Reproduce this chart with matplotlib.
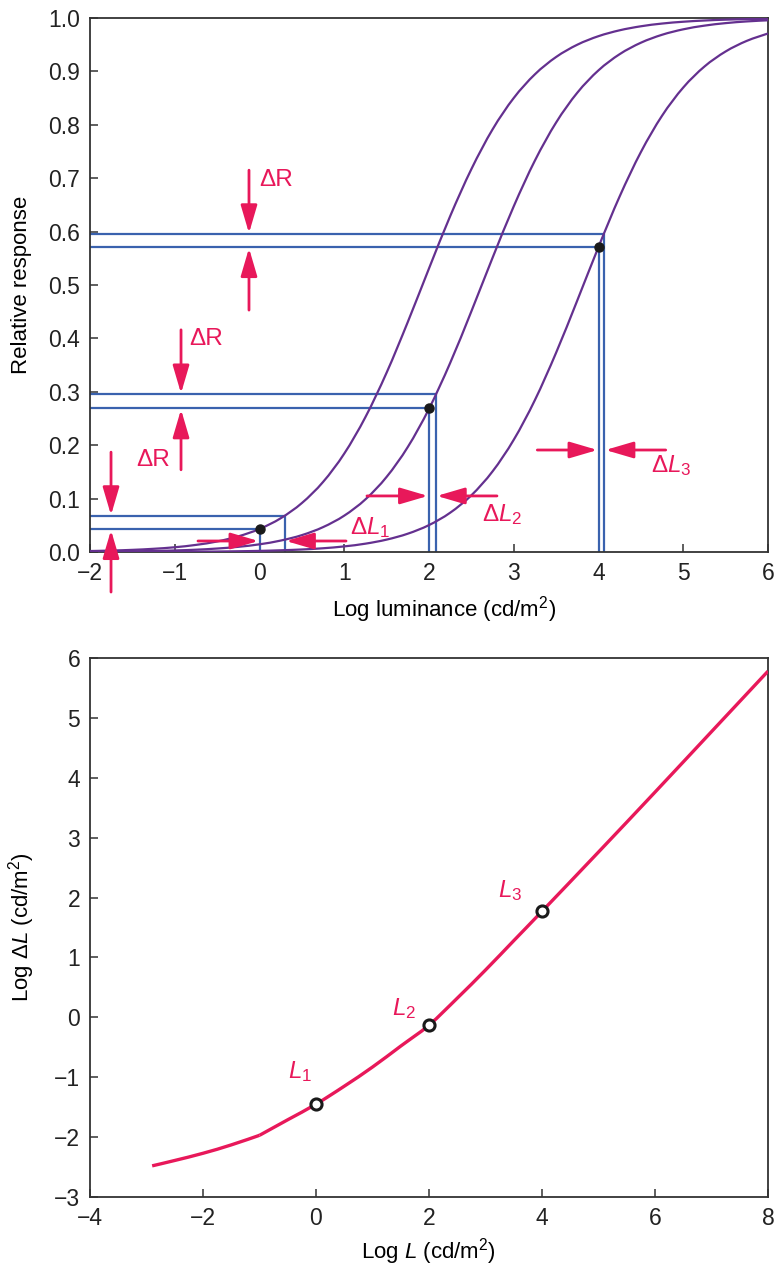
import matplotlib
matplotlib.use("Agg")
import matplotlib.pyplot as plt
from matplotlib.path import Path
from matplotlib.patches import PathPatch
import numpy as np

plt.rcParams['font.family'] = ['Liberation Sans', 'DejaVu Sans']
plt.rcParams['mathtext.fontset'] = 'custom'
plt.rcParams['mathtext.rm'] = 'Liberation Sans'
plt.rcParams['mathtext.it'] = 'Liberation Sans:italic'
plt.rcParams['mathtext.bf'] = 'Liberation Sans:bold'

# ---------------- data ----------------
log_lum = [-2.0, -1.75, -1.5, -1.25, -1.0, -0.75, -0.5, -0.25, 0.0, 0.25, 0.5, 0.75,
           1.0, 1.25, 1.5, 1.75, 2.0, 2.25, 2.5, 2.75, 3.0, 3.25, 3.5, 3.75,
           4.0, 4.25, 4.5, 4.75, 5.0, 5.25, 5.5, 5.75, 6.0]
response_1 = [0.0018, 0.0027, 0.0040, 0.0060, 0.0089, 0.0133, 0.0197, 0.0293, 0.0431,
              0.0632, 0.0917, 0.1312, 0.1843, 0.2527, 0.3359, 0.4308, 0.531, 0.629,
              0.717, 0.7914, 0.8502, 0.8946, 0.9270, 0.9500, 0.9660, 0.9770, 0.9845,
              0.9896, 0.9930, 0.9953, 0.9969, 0.9979, 0.9986]
response_2 = [0.0006, 0.0009, 0.0013, 0.0019, 0.0029, 0.0043, 0.0065, 0.0097, 0.0144,
              0.0214, 0.0316, 0.0466, 0.0681, 0.0986, 0.1407, 0.1967, 0.2682, 0.3541,
              0.4507, 0.5510, 0.6474, 0.7331, 0.8043, 0.8601, 0.9020, 0.9323, 0.9537,
              0.9686, 0.9788, 0.9857, 0.9904, 0.9936, 0.9957]
response_3 = [0.0001, 0.0001, 0.0002, 0.0003, 0.0004, 0.0006, 0.0009, 0.0014, 0.0021,
              0.0032, 0.0047, 0.0070, 0.0105, 0.0156, 0.0232, 0.0343, 0.0504, 0.0736,
              0.1062, 0.1510, 0.2102, 0.2847, 0.3733, 0.4712, 0.5713, 0.6660, 0.7489,
              0.8170, 0.8698, 0.9091, 0.9373, 0.9572, 0.9710]

# increment boxes: L, L + dL, R, R + dR  (curve 1, 2, 3)
box_L = [0.0, 2.0, 4.0]
box_L_plus = [0.3, 2.08, 4.07]
box_R = [0.043, 0.269, 0.571]
box_R_plus = [0.067, 0.295, 0.595]

# threshold-versus-intensity curve (two pieces meeting at the knee)
tvi_logL_low = [-2.9, -2.5, -2.0, -1.5, -1.0]
tvi_logdL_low = [-2.48, -2.39, -2.27, -2.13, -1.97]
tvi_logL = [-1.0, -0.5, 0.0, 0.5, 1.0, 1.5, 2.0, 2.5, 3.0,
            3.5, 4.0, 5.0, 6.0, 7.0, 8.0]
tvi_logdL = [-1.97, -1.71, -1.45, -1.15, -0.83, -0.48,
             -0.13, 0.32, 0.79, 1.28, 1.77, 2.76, 3.76, 4.77, 5.78]
mark_logL = [0.0, 2.0, 4.0]
mark_logdL = [-1.45, -0.13, 1.77]
mark_names = ['1', '2', '3']

PURPLE = '#64308f'
BLUE = '#3a62ae'
PINK = '#e8185a'
AX = '#333333'
FS_TICK = 16.5
FS_LAB = 16
FS_ANN = 17.5


def smooth_path(xs, ys):
    pts = np.column_stack([xs, ys]).astype(float)
    verts = [pts[0]]
    codes = [Path.MOVETO]
    n = len(pts)
    for i in range(n - 1):
        p0 = pts[i - 1] if i > 0 else pts[i]
        p1 = pts[i]
        p2 = pts[i + 1]
        p3 = pts[i + 2] if i + 2 < n else pts[i + 1]
        verts += [p1 + (p2 - p0) / 6.0, p2 - (p3 - p1) / 6.0, p2]
        codes += [Path.CURVE4] * 3
    return Path(verts, codes)


def draw_curve(ax, xs, ys, **kw):
    ax.add_patch(PathPatch(smooth_path(xs, ys), fill=False, **kw))


fig = plt.figure(figsize=(7.77, 12.72), dpi=100)
ax1 = fig.add_axes([90/777, 1-552/1272, 678/777, 534/1272])
ax2 = fig.add_axes([90/777, 1-1197/1272, 678/777, 539/1272])

for ax in (ax1, ax2):
    for s in ax.spines.values():
        s.set_color(AX)
        s.set_linewidth(1.3)
    ax.tick_params(direction='in', length=6, width=1.1, color=AX,
                   labelsize=FS_TICK, labelcolor='#222222', pad=7)

# ---------------- top panel ----------------
for r in (response_1, response_2, response_3):
    draw_curve(ax1, log_lum, r, edgecolor=PURPLE, lw=1.6, zorder=3)

for xl, xh, rl, rh in zip(box_L, box_L_plus, box_R, box_R_plus):
    ax1.plot([-2, xl, xl], [rl, rl, 0], color=BLUE, lw=1.6, zorder=2)
    ax1.plot([-2, xh, xh], [rh, rh, 0], color=BLUE, lw=1.6, zorder=2)
    ax1.plot([xl], [rl], 'o', color='#1a1a1a', ms=6.5, zorder=5)

ax1.set_xlim(-2, 6)
ax1.set_ylim(0, 1)
ax1.set_xticks(range(-2, 7))
ax1.set_yticks(np.arange(0, 1.01, 0.1))
ax1.set_yticklabels([f'{v:.1f}' for v in np.arange(0, 1.01, 0.1)])
ax1.set_xlabel('Log luminance (cd/m$^2$)', fontsize=FS_LAB)
ax1.xaxis.set_label_coords((444 - 90) / 678, -(610 - 552) / 534)
ax1.xaxis.label.set_va('center')
ax1.set_ylabel('Relative response', fontsize=FS_LAB)
ax1.yaxis.set_label_coords((22 - 90) / 678, 0.5)
ax1.yaxis.label.set_va('center')


def arrow(ax, tail, tip):
    ax.annotate('', xy=tip, xytext=tail,
                arrowprops=dict(arrowstyle='-|>,head_length=1.7,head_width=0.5',
                                mutation_scale=10, lw=2, color=PINK,
                                shrinkA=0, shrinkB=0),
                annotation_clip=False, zorder=6)


# delta R arrows (vertical), for curves 1, 2, 3
for xa, rl, rh, ta, tb in zip([-1.752, -0.926, -0.124], box_R, box_R_plus,
                              [0.187, 0.416, 0.715], [-0.075, 0.154, 0.453]):
    arrow(ax1, (xa, ta), (xa, rh + 0.002))
    arrow(ax1, (xa, tb), (xa, rl - 0.002))
for xt, yt in zip([-0.006, -0.832, -1.457], [0.685, 0.388, 0.161]):
    ax1.text(xt, yt, 'ΔR', color=PINK, fontsize=FS_ANN, ha='left', va='baseline')

# delta L arrows (horizontal)
for ya, xl, xh, ta, tb in zip([0.0206, 0.105, 0.191], box_L, box_L_plus,
                              [-0.726, 1.268, 3.278], [1.021, 2.802, 4.793]):
    arrow(ax1, (ta, ya), (xl - 0.012, ya))
    arrow(ax1, (tb, ya), (xh + 0.012, ya))
for k, (xt, yt) in enumerate(zip([1.068, 2.625, 4.619], [0.034, 0.058, 0.150])):
    ax1.text(xt, yt, 'Δ$L_{%d}$' % (k + 1), color=PINK, fontsize=FS_ANN,
             ha='left', va='baseline')

# ---------------- bottom panel ----------------
draw_curve(ax2, tvi_logL_low, tvi_logdL_low, edgecolor=PINK, lw=2.4, zorder=3,
           capstyle='butt')
draw_curve(ax2, tvi_logL, tvi_logdL, edgecolor=PINK, lw=2.4, zorder=3,
           capstyle='butt')
ax2.plot(mark_logL, mark_logdL, 'o', ms=8, mfc='white', mec='#1a1a1a', mew=2.2, zorder=4)
for nm, xt, yt in zip(mark_names, [-0.496, 1.345, 3.221], [-1.013, 0.038, 2.008]):
    ax2.text(xt, yt, '$L_{%s}$' % nm, color=PINK, fontsize=FS_ANN,
             ha='left', va='baseline')

ax2.set_xlim(-4, 8)
ax2.set_ylim(-3, 6)
ax2.set_xticks(range(-4, 9, 2))
ax2.set_yticks(range(-3, 7))
ax2.set_xlabel('Log $L$ (cd/m$^2$)', fontsize=FS_LAB)
ax2.xaxis.set_label_coords((428 - 90) / 678, -(1252 - 1197) / 539)
ax2.xaxis.label.set_va('center')
ax2.set_ylabel('Log Δ$L$ (cd/m$^2$)', fontsize=FS_LAB)
ax2.yaxis.set_label_coords((22 - 90) / 678, 0.5)
ax2.yaxis.label.set_va('center')

fig.savefig('out.png', dpi=100)
